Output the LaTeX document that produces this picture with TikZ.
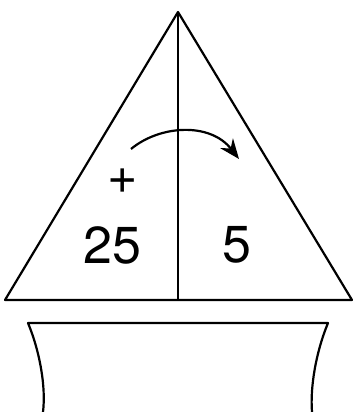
\documentclass[tikz,border=0pt]{standalone}
\usepackage{fontspec}
\setmainfont{TeX Gyre Heros}
\usetikzlibrary{arrows.meta}

\begin{document}
\begin{tikzpicture}[
    x=1pt, y=1pt,
    edge/.style={
        draw=black,
        line width=2.2pt,
        line join=round
    },
    num/.style={
        font=\fontsize{52}{52}\selectfont,
        inner sep=0pt
    }
]
\useasboundingbox (0,0) rectangle (358,412);

% Triangle corners
\coordinate (apex) at (178,400);
\coordinate (left) at (5,112);
\coordinate (right) at (352,112);
\coordinate (mid) at (178,112);

% Triangle and divider
\draw[edge] (apex) -- (left) -- (right) -- cycle;
\draw[edge] (apex) -- (mid);

% Numbers
\node[num] (plus) at (123,231) {+};
\node[num] (tens) at (112,167) {25};
\node[num] (ones) at (237,167) {5};

% Curved arrow
\coordinate (arrowstart) at (131,263);
\coordinate (arrowend) at (239,253);
\draw[edge, -{Stealth[length=20pt,width=16pt]}] (arrowstart)
    .. controls (160,287) and (210,290) .. (arrowend);

% Box below
\coordinate (boxtl) at (28,89);
\coordinate (boxtr) at (328,89);
\draw[edge] (43,0) .. controls (46,25) and (40,60) .. (boxtl)
    -- (boxtr) .. controls (316,60) and (310,25) .. (312,0);

\end{tikzpicture}
\end{document}
